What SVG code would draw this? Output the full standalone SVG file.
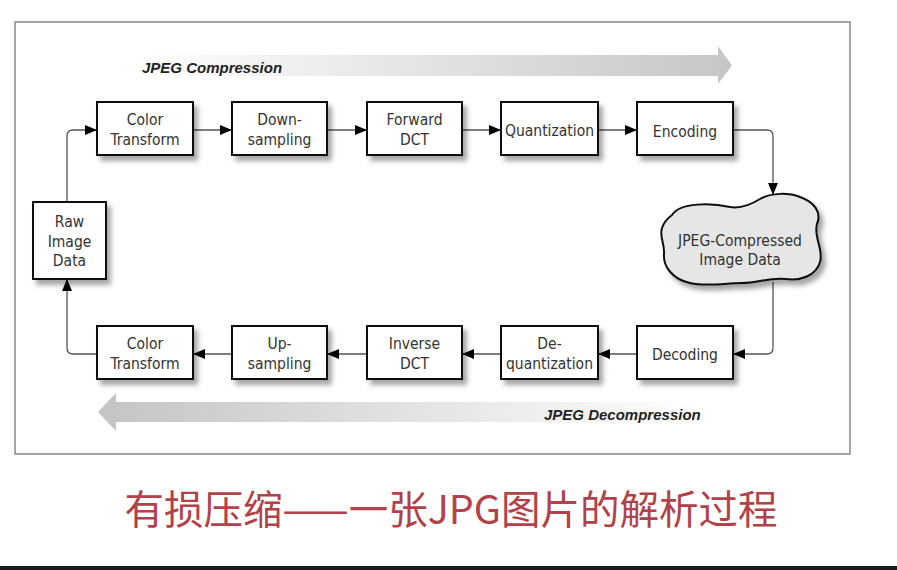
<svg xmlns="http://www.w3.org/2000/svg" width="897" height="570" viewBox="0 0 897 570">
<defs>
<style>
.box{fill:#fff;stroke:#111;stroke-width:2;filter:url(#sh)}
.lbl{font-family:"DejaVu Sans Condensed","Liberation Sans",Arial,sans-serif;font-stretch:condensed;font-size:15.5px;fill:#333;text-anchor:middle}
.band{font-family:"Liberation Sans","Arial",sans-serif;font-size:15px;font-weight:bold;font-style:italic;fill:#222}
.con{fill:none;stroke:#555;stroke-width:1.3;marker-end:url(#ah)}
</style>
<filter id="sh" x="-20%" y="-20%" width="150%" height="160%">
<feDropShadow dx="4" dy="5" stdDeviation="2.5" flood-color="#000" flood-opacity="0.35"/>
</filter>
<marker id="ah" viewBox="0 0 12 10" refX="12" refY="5" markerWidth="12" markerHeight="10" markerUnits="userSpaceOnUse" orient="auto">
<path d="M0,0 L12,5 L0,10 Z" fill="#000"/>
</marker>
<linearGradient id="gTop" x1="130" y1="0" x2="732" y2="0" gradientUnits="userSpaceOnUse">
<stop offset="0" stop-color="#fff"/>
<stop offset="1" stop-color="#c6c6c6"/>
</linearGradient>
<linearGradient id="gBot" x1="98" y1="0" x2="700" y2="0" gradientUnits="userSpaceOnUse">
<stop offset="0" stop-color="#c4c4c4"/>
<stop offset="1" stop-color="#fff"/>
</linearGradient>
</defs>
<rect width="897" height="570" fill="#fff"/>
<rect x="15" y="22" width="835" height="432" fill="#fff" stroke="#888" stroke-width="1.5"/>

<g id="compression-band">
<path d="M130,55 L718,55 L718,46 L732,65.5 L718,84 L718,76 L130,76 Z" fill="url(#gTop)"/>
<text class="band" x="142" y="73">JPEG Compression</text>
</g>
<g id="decompression-band">
<path d="M700,402 L116,402 L116,393 L98,412 L116,431 L116,422 L700,422 Z" fill="url(#gBot)"/>
<text class="band" x="544" y="420">JPEG Decompression</text>
</g>

<g id="connectors">
<path class="con" d="M67,202 L67,136 Q67,130 73,130 L97,130"/>
<line class="con" x1="193" y1="130" x2="232" y2="130"/>
<line class="con" x1="327" y1="130" x2="367" y2="130"/>
<line class="con" x1="462" y1="130" x2="501" y2="130"/>
<line class="con" x1="598" y1="130" x2="637" y2="130"/>
<path class="con" d="M733,130 L767,130 Q773,130 773,136 L773,195"/>
<path class="con" d="M773,282 L773,348 Q773,354 767,354 L733,354"/>
<line class="con" x1="637" y1="354" x2="598" y2="354"/>
<line class="con" x1="501" y1="354" x2="462" y2="354"/>
<line class="con" x1="367" y1="354" x2="327" y2="354"/>
<line class="con" x1="232" y1="354" x2="193" y2="354"/>
<path class="con" d="M97,354 L73,354 Q67,354 67,348 L67,279"/>
</g>

<g id="raw-image-data">
<rect class="box" x="33" y="202" width="73" height="77"/>
<text class="lbl" x="69.5" y="227">Raw</text>
<text class="lbl" x="69.5" y="247">Image</text>
<text class="lbl" x="69.5" y="266">Data</text>
</g>
<g id="color-transform-top">
<rect class="box" x="97" y="102" width="96" height="53"/>
<text class="lbl" x="145" y="125">Color</text>
<text class="lbl" x="145" y="145">Transform</text>
</g>
<g id="down-sampling">
<rect class="box" x="232" y="102" width="95" height="53"/>
<text class="lbl" x="279.5" y="125">Down-</text>
<text class="lbl" x="279.5" y="145">sampling</text>
</g>
<g id="forward-dct">
<rect class="box" x="367" y="102" width="95" height="53"/>
<text class="lbl" x="414.5" y="125">Forward</text>
<text class="lbl" x="414.5" y="145">DCT</text>
</g>
<g id="quantization">
<rect class="box" x="501" y="102" width="97" height="53"/>
<text class="lbl" x="549.5" y="136">Quantization</text>
</g>
<g id="encoding">
<rect class="box" x="637" y="102" width="96" height="53"/>
<text class="lbl" x="685" y="137">Encoding</text>
</g>
<g id="jpeg-compressed-data">
<path d="M672,215 C680,202 712,203 730,207 C742,209 752,204 760,199 C772,192 790,193 800,197 C814,202 822,212 817,224 C813,236 824,250 820,262 C816,276 800,281 786,279 C770,277 758,283 742,283 C724,283 708,287 690,283 C672,279 663,266 664,254 C665,244 659,236 662,228 C664,222 668,218 672,215 Z" fill="#e6e6e6" stroke="#111" stroke-width="2" filter="url(#sh)"/>
<text class="lbl" x="740" y="246">JPEG-Compressed</text>
<text class="lbl" x="740" y="265">Image Data</text>
</g>
<g id="decoding">
<rect class="box" x="637" y="326" width="96" height="53"/>
<text class="lbl" x="685" y="360">Decoding</text>
</g>
<g id="de-quantization">
<rect class="box" x="501" y="326" width="97" height="53"/>
<text class="lbl" x="549.5" y="349">De-</text>
<text class="lbl" x="549.5" y="369">quantization</text>
</g>
<g id="inverse-dct">
<rect class="box" x="367" y="326" width="95" height="53"/>
<text class="lbl" x="414.5" y="349">Inverse</text>
<text class="lbl" x="414.5" y="369">DCT</text>
</g>
<g id="up-sampling">
<rect class="box" x="232" y="326" width="95" height="53"/>
<text class="lbl" x="279.5" y="349">Up-</text>
<text class="lbl" x="279.5" y="369">sampling</text>
</g>
<g id="color-transform-bottom">
<rect class="box" x="97" y="326" width="96" height="53"/>
<text class="lbl" x="145" y="349">Color</text>
<text class="lbl" x="145" y="369">Transform</text>
</g>

<text x="451" y="524" font-family="'Noto Sans CJK SC',sans-serif" font-size="39.5" fill="#b0424a" text-anchor="middle">有损压缩——一张JPG图片的解析过程</text>
<rect x="0" y="566" width="897" height="4" fill="#1a1a1a"/>
</svg>
